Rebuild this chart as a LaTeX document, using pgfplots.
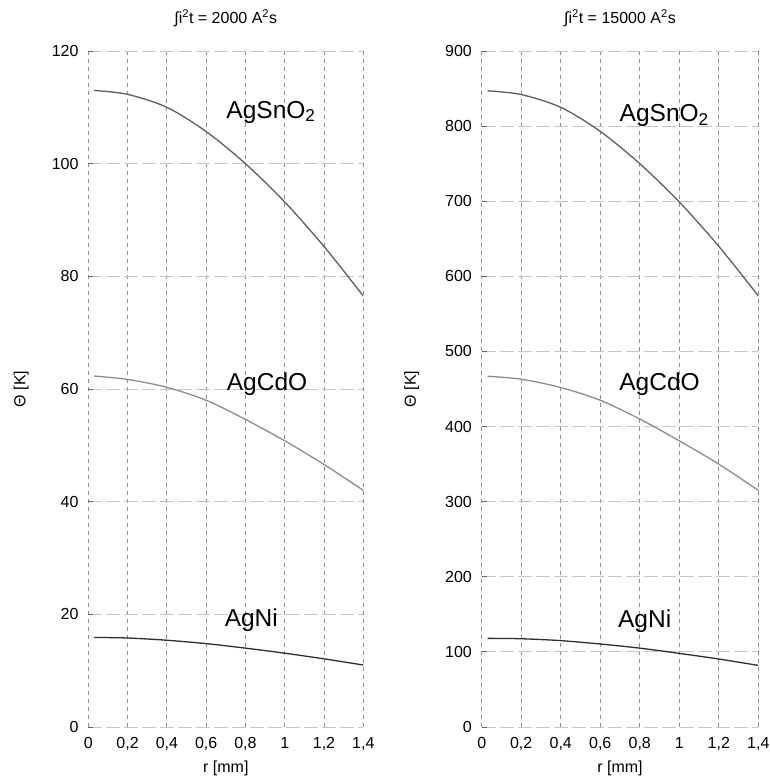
\documentclass[border=0pt]{standalone}
\usepackage{fontspec}
\setmainfont{Liberation Sans}
\usepackage{pgfplots}
\pgfplotsset{compat=1.18}
\definecolor{cSn}{HTML}{5E5E5E}
\definecolor{cCd}{HTML}{8C8C8C}
\definecolor{cNi}{HTML}{2E2E2E}
\newcommand{\smallf}{\fontsize{16bp}{18bp}\selectfont}
\tikzset{lbl/.style={anchor=base, font=\fontsize{24.5bp}{27bp}\selectfont}}
\pgfplotsset{
 myaxis/.style={
  scale only axis, height=676bp,
  xmin=0, xmax=1.4, ymin=0,
  xtick={0,0.2,0.4,0.6,0.8,1,1.2,1.4},
  xticklabels={0,{0,2},{0,4},{0,6},{0,8},1,{1,2},{1,4}},
  grid=major,
  x grid style={color=black!45, dash pattern=on 4bp off 4bp, line width=0.9bp},
  y grid style={color=black!22, dash pattern=on 14bp off 4bp, line width=0.9bp},
  x axis line style={color=black!60, line width=0.9bp},
  y axis line style={draw=none},
  /pgf/number format/assume math mode=true,
  ytick pos=left, tick align=inside, major tick length=5bp,
  ytick style={color=black!60, line width=0.9bp},
  xtick style={draw=none},
  yticklabel style={anchor=east, xshift=-6.3bp, font=\smallf},
  xticklabel style={anchor=base, yshift=-21.3bp, font=\smallf},
  title style={at={(0.5,1)}, anchor=base, yshift=21.7bp, font=\smallf},
  xlabel={r [mm]},
  xlabel style={at={(axis description cs:0.5,-0.068)}, anchor=base, font=\smallf},
  every axis plot/.append style={smooth, line width=1.3bp, mark=none},
 },
}
\begin{document}
\begin{tikzpicture}
\useasboundingbox (0,0) rectangle (770bp,781bp);
\begin{axis}[myaxis, at={(88.3bp,54bp)}, anchor=south west, width=275bp,
  ymax=120, ytick={0,20,40,60,80,100,120},
  title={∫i\textsuperscript{2}t = 2000 A\textsuperscript{2}s},
  ylabel={Θ [K]},
  ylabel style={at={(axis description cs:-0.2436,0.5)}, anchor=center, font=\smallf}]
\addplot[cSn] coordinates {(0.03,113.0)(0.2,112.3)(0.4,110.0)(0.6,105.7)(0.8,100.0)(1.0,93.2)(1.2,85.3)(1.4,76.5)};
\addplot[cCd] coordinates {(0.03,62.3)(0.2,61.7)(0.4,60.3)(0.6,58.0)(0.8,54.6)(1.0,50.8)(1.2,46.6)(1.4,42.0)};
\addplot[cNi] coordinates {(0.03,15.9)(0.2,15.8)(0.4,15.4)(0.6,14.8)(0.8,14.0)(1.0,13.1)(1.2,12.1)(1.4,11.0)};
\node[lbl] at (axis cs:0.93,108.1) {AgSnO\textsubscript{2}};
\node[lbl] at (axis cs:0.91,59.8) {AgCdO};
\node[lbl] at (axis cs:0.83,17.8) {AgNi};
\end{axis}
\begin{axis}[myaxis, at={(481.7bp,54bp)}, anchor=south west, width=276.6bp,
  ymax=900, ytick={0,100,200,300,400,500,600,700,800,900},
  title={∫i\textsuperscript{2}t = 15000 A\textsuperscript{2}s},
  ylabel={Θ [K]},
  ylabel style={at={(axis description cs:-0.253,0.5)}, anchor=center, font=\smallf}]
\addplot[cSn] coordinates {(0.03,847)(0.2,842)(0.4,825)(0.6,793)(0.8,750)(1.0,699)(1.2,640)(1.4,574)};
\addplot[cCd] coordinates {(0.03,467)(0.2,463)(0.4,452)(0.6,435)(0.8,410)(1.0,381)(1.2,350)(1.4,315)};
\addplot[cNi] coordinates {(0.03,118)(0.2,117.5)(0.4,115)(0.6,110.5)(0.8,105)(1.0,98)(1.2,90.5)(1.4,82)};
\node[lbl] at (axis cs:0.924,806) {AgSnO\textsubscript{2}};
\node[lbl] at (axis cs:0.90,448) {AgCdO};
\node[lbl] at (axis cs:0.825,132) {AgNi};
\end{axis}
\end{tikzpicture}
\end{document}
